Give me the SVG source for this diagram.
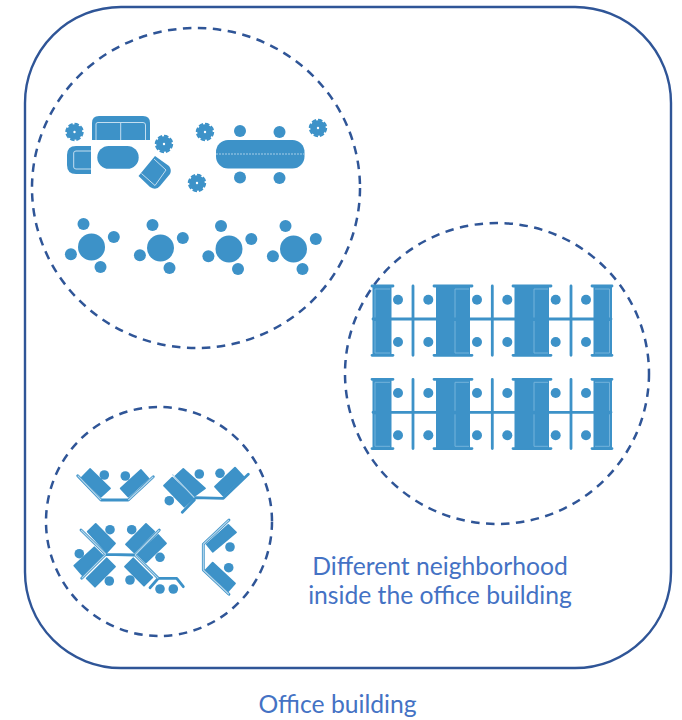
<svg xmlns="http://www.w3.org/2000/svg" width="682" height="720" viewBox="0 0 682 720">
<style>
.b{fill:#3D92C8}
.d{fill:#3D92C8;stroke:#3D92C8;stroke-width:1.8;stroke-linejoin:round}
.l{fill:none;stroke:#C3DEF0;stroke-width:1}
.m{fill:none;stroke:#74B3DB;stroke-width:1}
.s{fill:none;stroke:#3D92C8;stroke-width:2.800;stroke-linejoin:round;stroke-linecap:round}
.w{fill:none;stroke:#B5D7EC;stroke-width:1.200}
.z{fill:none;stroke:#2F5597;stroke-width:2.500;stroke-dasharray:8.500 6.500}
.t{font-family:Lato,"Open Sans",sans-serif;font-size:24.700px;fill:#4472C4;text-anchor:middle}
</style>
<defs>
<g id="plant"><circle r="7.800" fill="#3D92C8"/><circle r="8.200" fill="none" stroke="#3D92C8" stroke-width="2" stroke-dasharray="4.500 1.900"/><circle r="1.200" fill="#fff"/></g>
<g id="rt"><circle cx="0" cy="0" r="13.500" class="b"/><circle cx="-8" cy="-23" r="6" class="b"/><circle cx="22.300" cy="-10" r="6" class="b"/><circle cx="-20.600" cy="7.300" r="6" class="b"/><circle cx="9" cy="20" r="6" class="b"/></g>
<g id="row">
<path class="s" d="M372 286H393M372 355.300H393M434 286H472M434 355.300H472M513 286H551M513 355.300H551M592 286H612M592 355.300H612M373 319H611M413 286V355.300M492.300 286V355.300M571 286V355.300"/>
<rect class="b" x="372.500" y="286" width="19" height="69.300"/>
<path class="m" d="M375 317.500V289H390M375 321V353H390"/>
<rect class="b" x="436" y="286" width="34" height="69.300"/>
<path class="m" d="M455 317.500V289H469M455 321V353H469"/>
<rect class="b" x="514.500" y="286" width="34.500" height="69.300"/>
<path class="m" d="M534 317.500V289H548M534 321V353H548"/>
<rect class="b" x="593.500" y="286" width="18.500" height="69.300"/>
<path class="m" d="M609.500 317.500V289H595M609.500 321V353H595"/>
<g class="b"><circle cx="398" cy="299.700" r="5"/><circle cx="428.300" cy="299.700" r="5"/><circle cx="477" cy="299.700" r="5"/><circle cx="507.300" cy="299.700" r="5"/><circle cx="555.700" cy="299.700" r="5"/><circle cx="586" cy="299.700" r="5"/><circle cx="398" cy="342" r="5"/><circle cx="428.300" cy="342" r="5"/><circle cx="477" cy="342" r="5"/><circle cx="507.300" cy="342" r="5"/><circle cx="555.700" cy="342" r="5"/><circle cx="586" cy="342" r="5"/></g>
</g>
</defs>

<rect id="office-building" x="25" y="7" width="646" height="661" rx="96" ry="96" fill="#fff" stroke="#2F5597" stroke-width="2.400"/>

<ellipse id="zone-lounge" class="z" cx="196" cy="188" rx="164" ry="160"/>
<ellipse id="zone-desks" class="z" cx="497" cy="373.500" rx="152" ry="150.500"/>
<ellipse id="zone-clusters" class="z" cx="159" cy="521.500" rx="113" ry="114.500"/>

<g id="lounge">
<use href="#plant" x="74.500" y="132"/><use href="#plant" x="164" y="144"/><use href="#plant" x="205" y="132"/><use href="#plant" x="197" y="183"/><use href="#plant" x="318" y="128"/>
<path class="b" d="M92 140V123Q92 116 99 116H143Q150 116 150 123V140Z"/>
<path class="l" d="M96 140V124Q96 122.500 98 122.500H143Q145.500 122.500 145.500 125V140M120.700 122.500V140"/>
<path class="b" d="M91 146V174H76Q67 174 67 165V155Q67 146 76 146Z"/>
<path class="l" d="M91 151H76Q73.700 151 73.700 153V167Q73.700 169 76 169H91"/>
<rect class="b" x="97.300" y="146" width="41.400" height="22.800" rx="11.400"/>
<path class="b" d="M138.500 176L155 156L169 166Q172 170 170 174L160 186Q156 191 150 187Z"/>
<path class="l" d="M141.500 173.500L155 185.500L166 170L154 159"/>
<rect class="b" x="216" y="140" width="88.500" height="28.500" rx="12"/>
<path d="M216 154H304" stroke="#C3DEF0" stroke-width=".8" stroke-dasharray="2 1" fill="none"/>
<g class="b"><circle cx="240" cy="131" r="6"/><circle cx="279.500" cy="132" r="6"/><circle cx="240" cy="177.500" r="6"/><circle cx="279.500" cy="178" r="6"/></g>
<use href="#rt" x="91.500" y="247"/><use href="#rt" x="160.500" y="248"/><use href="#rt" x="229" y="249"/><use href="#rt" x="293.500" y="249"/>
</g>

<g id="desks">
<use href="#row"/>
<use href="#row" y="93.300"/>
</g>

<g id="clusters">
<g id="pod-a">
<path class="s" d="M77.700 475.700L101 500H128.300L153.300 476.700"/>
<path class="d" d="M90 469L110 488.300L101 496.700L81.700 477.700ZM141 470L148.300 478.300L128.300 496.700L120.700 488.300Z"/>
<path class="w" d="M77.700 475.700L101 500M153.300 476.700L128.300 500"/>
<circle class="b" cx="104.300" cy="475" r="4.800"/><circle class="b" cx="125.300" cy="476" r="4.800"/>
</g>
<g id="pod-b">
<path class="s" d="M194.300 497.700L223.300 498.300L248.300 474.300M194.300 500L182.300 512.300"/>
<path class="d" d="M183.300 469L205 488.300L193.300 496.700L175 476.700ZM164 485.700L172.300 477.700L193.300 498.300L184.300 506.700ZM235 467.700L243.300 476.700L223.300 495.700L215 486.700Z"/>
<path class="w" d="M172.300 474.300L194.300 497.700"/>
<circle class="b" cx="199.300" cy="474" r="4.800"/><circle class="b" cx="220" cy="473.300" r="4.800"/><circle class="b" cx="169.300" cy="500.700" r="4.800"/>
</g>
<g id="pod-c">
<path class="s" d="M81 530L105.700 554.300L135 555L159.300 530M105.700 554.300L81.700 578.300M135 555L158.300 578.300H176.700L183.300 586.700M158.300 578.300L150 587.700"/>
<path class="d" d="M95.700 524L115 543.300L106.700 552.300L87.700 531.700ZM74.300 565.700L94.300 547.300L102.700 555.700L82.300 575ZM106.700 558.300L115 566.700L95 586.700L86.700 578.300ZM146 524L154.300 531.700L134.300 552.300L126 544.300ZM158.300 535L166 543.300L146 562.300L137.700 554.300ZM133.300 558.300L152.300 577.300L144 585.700L125 566.700Z"/>
<path class="w" d="M81 530L105.700 554.300M105.700 554.300L81.700 578.300M159.300 530L135 555M135 555L158.300 578.300"/>
<g class="b"><circle cx="110" cy="529.700" r="4.800"/><circle cx="131.700" cy="529.700" r="4.800"/><circle cx="79.300" cy="553.700" r="4.800"/><circle cx="160" cy="557.300" r="4.800"/><circle cx="109.300" cy="581" r="4.800"/><circle cx="130" cy="580" r="4.800"/><circle cx="160" cy="589" r="4.800"/><circle cx="173.300" cy="589" r="4.800"/></g>
</g>
<g id="pod-d">
<path class="s" d="M229 520L203.300 544.300V570L229 594.300"/>
<path class="d" d="M228.300 525L236 532.300L212.700 551.700L206.700 544.300ZM212.700 562.700L235 583.300L228.300 591L205.700 570Z"/>
<path class="w" d="M229 520L203.300 544.300V570L229 594.300"/>
<circle class="b" cx="230" cy="547" r="4.800"/><circle class="b" cx="228.700" cy="567.700" r="4.800"/>
</g>
</g>

<text id="label-neighborhood-1" class="t" x="440" y="575">Different neighborhood</text>
<text id="label-neighborhood-2" class="t" x="440" y="604">inside the office building</text>
<text id="label-building" class="t" x="337.500" y="713">Office building</text>
</svg>
